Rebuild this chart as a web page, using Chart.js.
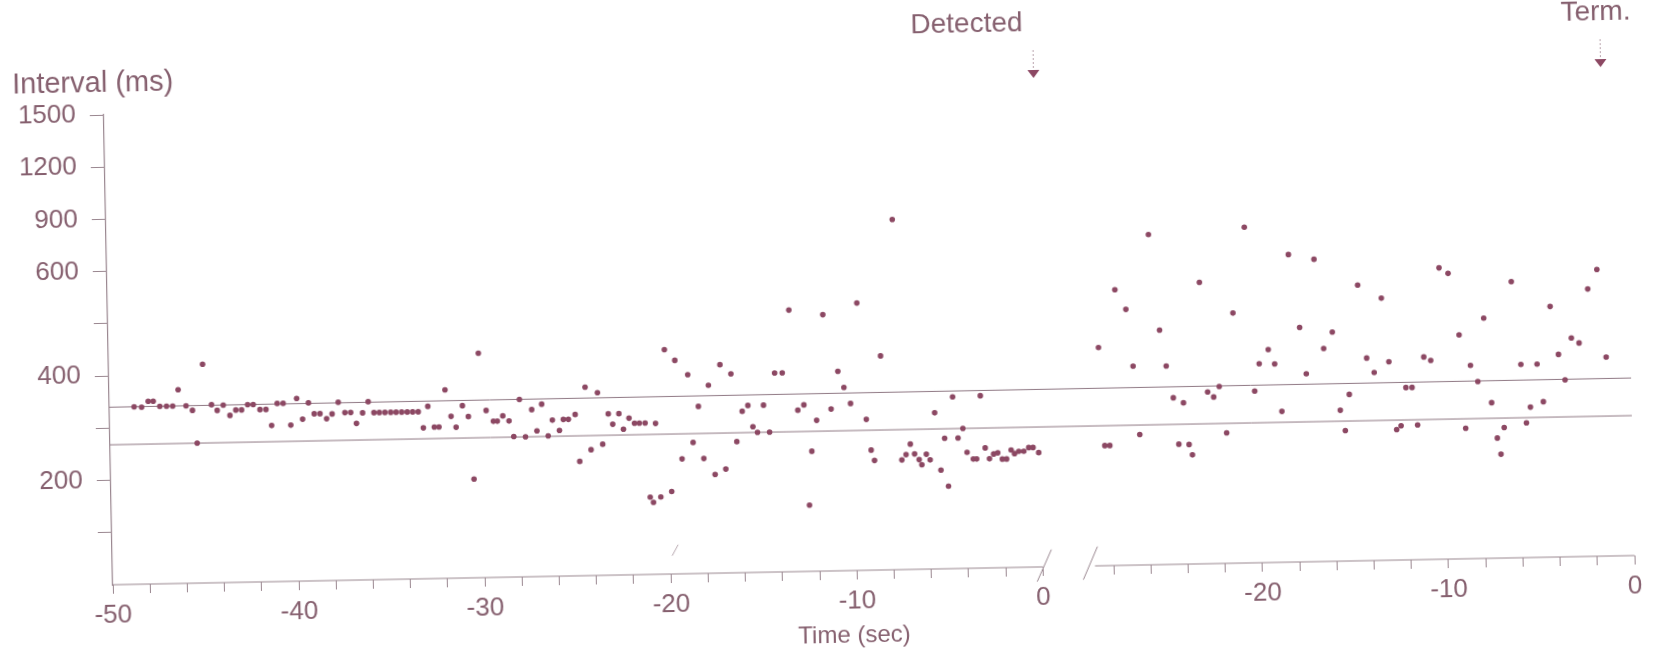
<!DOCTYPE html>
<html>
<head>
<meta charset="utf-8">
<script src="https://cdn.jsdelivr.net/npm/chart.js@4.4.1/dist/chart.umd.min.js"></script>
<style>
  html, body { margin: 0; padding: 0; background: #fff; overflow: hidden; }
  #chart { display: block; transform: rotate(-1.1deg); }
</style>
</head>
<body>
<canvas id="chart" width="1654" height="655"></canvas>
<script>
// left panel: 50 s before detection (time in sec, RR interval in ms)
const leftTime = [
  -48.67, -48.27, -47.91, -47.64, -47.29, -46.93, -46.60, -46.29, -45.88, -45.54,
  -45.32, -44.95, -44.51, -44.21, -43.88, -43.53, -43.21, -42.90, -42.57, -42.27,
  -41.91, -41.59, -41.30, -40.98, -40.66, -40.27, -39.93, -39.63, -39.30, -39.00,
  -38.69, -38.34, -38.04, -37.70, -37.35, -37.04, -36.74, -36.40, -36.09, -35.79,
  -35.50, -35.20, -34.89, -34.60, -34.30, -34.00, -33.71, -33.41, -33.15, -32.89,
  -32.56, -32.31, -31.95, -31.65, -31.39, -31.03, -30.72, -30.48, -30.12, -29.76,
  -29.38, -29.17, -28.87, -28.54, -28.30, -27.96, -27.67, -27.31, -27.05, -26.77,
  -26.45, -26.21, -25.84, -25.62, -25.35, -24.98, -24.78, -24.42, -24.16, -23.76,
  -23.53, -23.20, -22.97, -22.63, -22.40, -22.09, -21.80, -21.54, -21.23, -21.03,
  -20.86, -20.67, -20.46, -20.12, -19.87, -19.57, -19.28, -18.89, -18.67, -18.35,
  -18.11, -17.79, -17.52, -17.15, -16.94, -16.57, -16.32, -16.00, -15.69, -15.44,
  -15.20, -14.85, -14.55, -14.22, -13.81, -13.39, -13.01, -12.68, -12.48, -12.30,
  -12.01, -11.57, -11.22, -10.82, -10.51, -10.17, -9.73, -9.34, -9.11, -8.94,
  -8.51, -7.74, -7.47, -7.24, -7.00, -6.78, -6.54, -6.40, -6.15, -5.95,
  -5.66, -5.38, -5.15, -4.99, -4.68, -4.43, -4.16, -3.96, -3.63, -3.45,
  -3.19, -2.98, -2.76, -2.53, -2.31, -2.07, -1.84, -1.59, -1.41, -1.18,
  -0.91, -0.64, -0.41, -0.11
];
const leftInterval = [
  340, 339, 350, 350, 340, 340, 340, 371, 340, 331,
  268, 419, 341, 330, 340, 320, 330, 330, 340, 340,
  330, 330, 299, 341, 341, 299, 350, 310, 341, 320,
  320, 310, 319, 341, 321, 321, 300, 320, 341, 320,
  320, 320, 320, 320, 320, 320, 320, 320, 289, 330,
  290, 290, 361, 310, 289, 330, 309, 189, 430, 320,
  299, 299, 309, 299, 269, 340, 268, 320, 279, 330,
  269, 299, 279, 300, 300, 309, 219, 361, 241, 350,
  251, 309, 289, 309, 279, 300, 290, 290, 290, 148,
  138, 289, 148, 430, 158, 409, 220, 381, 251, 320,
  220, 360, 189, 399, 199, 381, 251, 309, 320, 279,
  268, 320, 268, 381, 381, 501, 309, 319, 127, 230,
  289, 491, 310, 382, 351, 320, 512, 289, 230, 210,
  410, 812, 210, 220, 240, 221, 210, 200, 220, 209,
  299, 189, 250, 158, 329, 250, 268, 222, 209, 209,
  330, 230, 209, 218, 220, 208, 208, 225, 218, 222,
  222, 229, 229, 219
];

// right panel: 29 s before termination
const rightTime = [
  -28.59, -28.35, -28.08, -27.65, -27.08, -26.75, -26.46, -25.79, -25.29, -24.97,
  -24.62, -24.37, -24.08, -23.82, -23.65, -23.10, -22.77, -22.45, -22.14, -21.79,
  -21.33, -20.63, -20.24, -19.97, -19.47, -19.14, -18.80, -18.29, -17.76, -17.45,
  -16.92, -16.49, -16.01, -15.66, -15.41, -15.16, -14.60, -14.19, -13.80, -13.34,
  -13.00, -12.65, -12.41, -12.11, -11.78, -11.52, -11.12, -10.75, -10.21, -9.73,
  -9.20, -8.94, -8.62, -8.24, -7.86, -7.52, -7.25, -7.07, -6.87, -6.34,
  -5.91, -5.67, -5.44, -5.04, -4.74, -4.28, -3.88, -3.55, -3.17, -2.76,
  -2.24, -1.73, -1.32
];
const rightInterval = [
  418, 230, 230, 528, 490, 381, 250, 697, 449, 380,
  319, 230, 309, 229, 209, 539, 329, 319, 339, 250,
  479, 729, 329, 381, 408, 380, 289, 589, 449, 360,
  579, 408, 439, 289, 250, 319, 528, 388, 360, 502,
  380, 250, 257, 330, 330, 258, 388, 381, 558, 547,
  429, 250, 370, 339, 460, 298, 230, 199, 250, 529,
  370, 258, 288, 370, 298, 480, 388, 339, 419, 409,
  512, 549, 381
];

const thresholds = [340, 268];
const yTickValues = [100, 200, 300, 400, 500, 600, 900, 1200, 1500];
const yTickLabels = ['', '200', '', '400', '', '600', '900', '1200', '1500'];
const leftLabelTimes = [-50, -40, -30, -20, -10, 0];
const rightLabelTimes = [-20, -10, 0];
const leftSpan = [-50, 0];
const rightSpan = [-29, 0];
const markerTimes = [0, -1.32];          // left panel 0, right panel last beat
const markerLabels = ['Detected', 'Term.'];

const RIGHT_SHIFT = 31.8;   // where right panel t=0 sits on the shared x axis

// y axis: 100 ms per step up to 600, then 300 ms per step
function yPos(ms) {
  return ms <= 600 ? ms / 100 : 6 + (ms - 600) / 300;
}

const INK = '#8c4863';
const TEXT = '#86606f';
const AXIS = '#9a8790';
const FONT = "'Liberation Sans', Arial, sans-serif";

const leftPts = leftTime.map((t, i) => ({ x: t, y: yPos(leftInterval[i]) }));
const rightPts = rightTime.map((t, i) => ({ x: t + RIGHT_SHIFT, y: yPos(rightInterval[i]) }));

function segment(data, color, width) {
  return {
    type: 'line', data: data, borderColor: color, borderWidth: width,
    pointRadius: 0, fill: false, clip: false, order: 2
  };
}

const datasets = [
  { data: leftPts, backgroundColor: INK, borderWidth: 0, pointRadius: 2.8, order: 1 },
  { data: rightPts, backgroundColor: INK, borderWidth: 0, pointRadius: 2.8, order: 1 }
];
thresholds.forEach(v => {
  datasets.push(segment([{ x: leftSpan[0], y: yPos(v) }, { x: RIGHT_SHIFT, y: yPos(v) }], '#8f7883', 1));
});
// broken x axis
datasets.push(segment([{ x: leftSpan[0], y: 0 }, { x: leftSpan[1], y: 0 }], AXIS, 1.2));
datasets.push(segment([{ x: rightSpan[0] + RIGHT_SHIFT, y: 0 }, { x: rightSpan[1] + RIGHT_SHIFT, y: 0 }], AXIS, 1.2));
// break slashes
datasets.push(segment([{ x: -0.32, y: yPos(-28) }, { x: 0.47, y: yPos(33) }], AXIS, 1));
datasets.push(segment([{ x: 2.16, y: yPos(-26) }, { x: 2.95, y: yPos(37) }], AXIS, 1));
datasets.push(segment([{ x: -19.91, y: yPos(35) }, { x: -19.58, y: yPos(56) }], '#b8a8b0', 1));

const annotations = {
  id: 'annotations',
  afterDraw(chart) {
    const ctx = chart.ctx;
    const xs = chart.scales.x;
    ctx.save();
    ctx.fillStyle = TEXT;
    ctx.textBaseline = 'middle';
    ctx.textAlign = 'left';
    ctx.font = '29px ' + FONT;
    ctx.fillText('Interval (ms)', 17, 70);

    // axis title sits under the left panel's -10
    ctx.font = '24px ' + FONT;
    ctx.textAlign = 'center';
    ctx.fillText('Time (sec)', xs.getPixelForValue(-10.2), 636);

    ctx.font = '28px ' + FONT;
    const offsets = [-66, -4];
    markerTimes.forEach((t, i) => {
      const u = i === 0 ? t : t + RIGHT_SHIFT;
      const x = xs.getPixelForValue(u);
      ctx.strokeStyle = '#b9a3ad';
      ctx.lineWidth = 1;
      ctx.setLineDash([2, 2]);
      ctx.beginPath();
      ctx.moveTo(x, 54);
      ctx.lineTo(x, 74);
      ctx.stroke();
      ctx.setLineDash([]);
      ctx.fillStyle = INK;
      ctx.beginPath();
      ctx.moveTo(x - 6, 74);
      ctx.lineTo(x + 6, 74);
      ctx.lineTo(x, 82);
      ctx.closePath();
      ctx.fill();
      ctx.fillStyle = TEXT;
      ctx.textAlign = 'center';
      ctx.fillText(markerLabels[i], x + offsets[i], 27);
    });
    ctx.restore();
  }
};

new Chart(document.getElementById('chart'), {
  type: 'scatter',
  data: { datasets: datasets },
  plugins: [annotations],
  options: {
    responsive: false,
    animation: false,
    devicePixelRatio: 1,
    layout: { autoPadding: false, padding: { top: 101, right: 24, left: 0, bottom: 0 } },
    plugins: { legend: { display: false }, tooltip: { enabled: false } },
    scales: {
      x: {
        type: 'linear',
        min: leftSpan[0],
        max: RIGHT_SHIFT,
        afterFit: s => { s.height = 84; },
        afterBuildTicks: s => {
          const ticks = [];
          for (let t = leftSpan[0]; t <= leftSpan[1]; t += 2) ticks.push({ value: t });
          for (let t = -28; t <= rightSpan[1]; t += 2) ticks.push({ value: t + RIGHT_SHIFT });
          s.ticks = ticks;
        },
        border: { display: false },
        grid: { drawOnChartArea: false, drawTicks: true, tickLength: 9, color: AXIS },
        ticks: {
          autoSkip: false,
          maxRotation: 0,
          padding: 6,
          color: TEXT,
          font: { family: FONT, size: 26 },
          callback: v => {
            if (v <= leftSpan[1] + 0.01) {
              const t = Math.round(v);
              return leftLabelTimes.includes(t) ? String(t) : '';
            }
            const t = Math.round(v - RIGHT_SHIFT);
            return rightLabelTimes.includes(t) ? String(t) : '';
          }
        }
      },
      y: {
        type: 'linear',
        min: 0,
        max: yPos(1500),
        afterFit: s => { s.width = 108; },
        afterBuildTicks: s => { s.ticks = yTickValues.map(v => ({ value: yPos(v) })); },
        border: { display: true, color: AXIS, width: 1.2 },
        grid: { drawOnChartArea: false, drawTicks: true, tickLength: 14, color: AXIS },
        ticks: {
          padding: 14,
          color: TEXT,
          font: { family: FONT, size: 26 },
          callback: (v, i) => yTickLabels[i]
        }
      }
    }
  }
});
</script>
</body>
</html>
